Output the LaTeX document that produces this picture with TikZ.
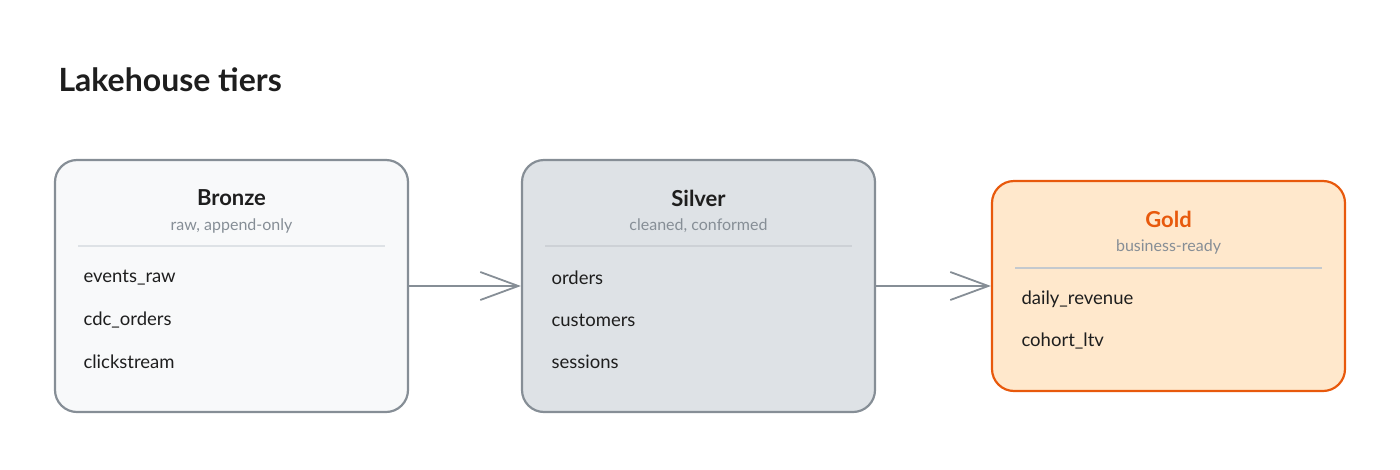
\documentclass[tikz,border=0pt]{standalone}
\usepackage{fontspec}
\setmainfont{Lato}
\usepackage{tikz}
\usetikzlibrary{arrows.meta}

\definecolor{edgegray}{HTML}{868E96}
\definecolor{rulegray}{HTML}{DEE2E6}
\definecolor{bronzefill}{HTML}{F8F9FA}
\definecolor{silverfill}{HTML}{DEE2E6}
\definecolor{goldfill}{HTML}{FFE8CC}
\definecolor{goldedge}{HTML}{E8590C}
\definecolor{ink}{HTML}{1E1E1E}

\tikzset{
  tier/.style={draw=edgegray, line width=2.2pt, rounded corners=22pt,
    minimum width=353pt, inner sep=0pt},
  tiername/.style={font=\fontsize{22}{25}\selectfont\bfseries, text=ink},
  tiernote/.style={font=\fontsize{16}{18}\selectfont, text=edgegray},
  tbl/.style={anchor=west, font=\fontsize{18.5}{21}\selectfont, text=ink},
  flow/.style={draw=edgegray, line width=2pt,
    -{Straight Barb[length=38pt,width=28pt,line width=1.8pt]}}
}

\begin{document}
\begin{tikzpicture}[x=1pt,y=-1pt]

  \useasboundingbox (0,0) rectangle (1400,469);

  \node[anchor=west, font=\fontsize{32}{36}\selectfont\bfseries, text=ink]
    (heading) at (55,80) {Lakehouse tiers};

  \begin{scope}[shift={(55,160)}]

    \node[tier, fill=bronzefill, minimum height=252pt] (bronze) at (176.5,126) {};

        % header
    \node[tiername] (bronzename) at (176.5,38) {Bronze};
    \node[tiernote] (bronzenote) at (176.5,66) {raw, append-only};
    \draw[rulegray, line width=1.2pt] (23,86) -- (330,86);

    \node[tbl] (eventsraw) at (25,118) {events\_raw};
    \node[tbl] (cdcorders) at (25,160) {cdc\_orders};
    \node[tbl] (clickstream) at (25,202) {clickstream};
  \end{scope}

  \begin{scope}[shift={(522,160)}]

    \node[tier, fill=silverfill, minimum height=252pt] (silver) at (176.5,126) {};

        % header
    \node[tiername] (silvername) at (176.5,38) {Silver};
    \node[tiernote] (silvernote) at (176.5,66) {cleaned, conformed};
    \draw[rulegray!80!edgegray, line width=1.2pt] (23,86) -- (330,86);

    \node[tbl] (orders) at (26,118) {orders};
    \node[tbl] (customers) at (26,160) {customers};
    \node[tbl] (sessions) at (26,202) {sessions};
  \end{scope}

  \begin{scope}[shift={(992,182)}]

    \node[tier, draw=goldedge, fill=goldfill, minimum height=210pt] (gold) at (176.5,104) {};

        % header
    \node[tiername, text=goldedge] (goldname) at (176.5,37) {Gold};
    \node[tiernote] (goldnote) at (176.5,65) {business-ready};
    \draw[rulegray!70!edgegray, line width=1.2pt] (23,86) -- (330,86);

    \node[tbl] (dailyrevenue) at (26,117) {daily\_revenue};
    \node[tbl] (cohortltv) at (26,159) {cohort\_ltv};
  \end{scope}

        % flow between tiers
  \draw[flow] (bronze.east) -- (silver.west);
  \draw[flow] (silver.east) -- (gold.west);

\end{tikzpicture}
\end{document}
